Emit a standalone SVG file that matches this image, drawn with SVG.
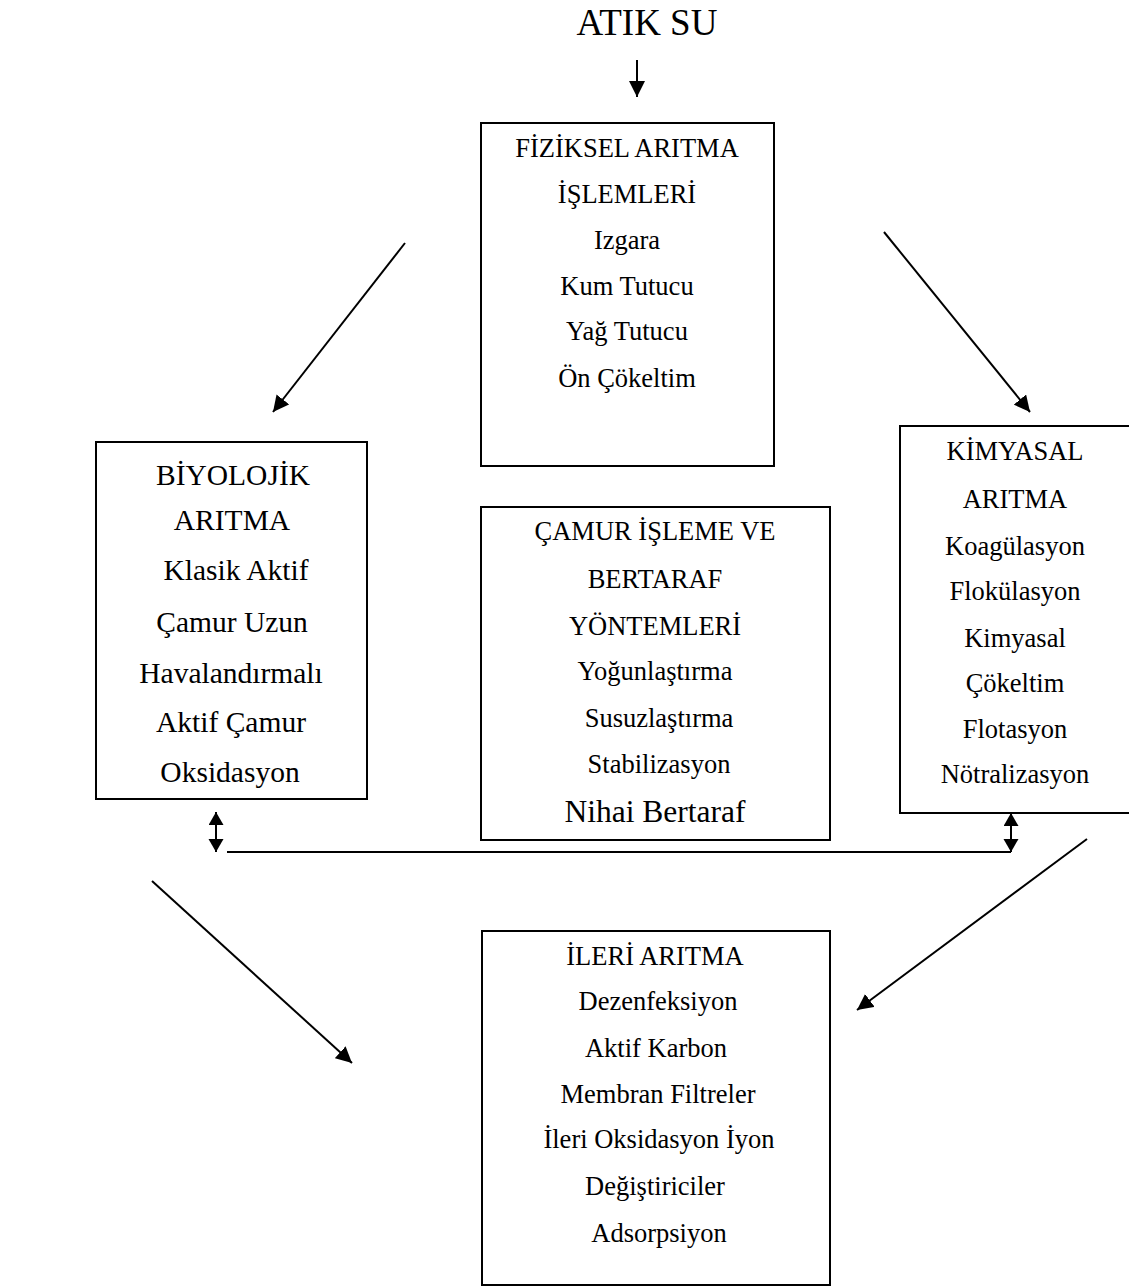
<svg xmlns="http://www.w3.org/2000/svg" width="1129" height="1286" viewBox="0 0 1129 1286">
<style>
text{font-family:"Liberation Serif","Times New Roman",serif;fill:#000;text-anchor:middle}
.box{fill:none;stroke:#000;stroke-width:2}
.c{fill:none;stroke:#000;stroke-width:2}
.t26{font-size:26.5px}
.t29{font-size:29.5px}
</style>
<defs>
<marker id="ah" markerUnits="userSpaceOnUse" markerWidth="18" markerHeight="16" refX="16" refY="8" orient="auto-start-reverse" viewBox="0 0 18 16">
<path d="M0,0 L16,8 L0,16 z" fill="#000"/>
</marker>
<marker id="ahs" markerUnits="userSpaceOnUse" markerWidth="15" markerHeight="16" refX="13" refY="7.5" orient="auto-start-reverse" viewBox="0 0 15 16">
<path d="M0,0 L13,7.5 L0,15 z" fill="#000"/>
</marker>
</defs>
<rect width="1129" height="1286" fill="#fff"/>

<g id="title">
<text x="647" y="35" style="font-size:37px">ATIK SU</text>
</g>

<g id="fiziksel">
<rect class="box" x="481" y="123" width="293" height="343"/>
<text class="t26" x="627" y="157">FİZİKSEL ARITMA</text>
<text class="t26" x="627" y="203">İŞLEMLERİ</text>
<text class="t26" x="627" y="249">Izgara</text>
<text class="t26" x="627" y="295">Kum Tutucu</text>
<text class="t26" x="627" y="340">Yağ Tutucu</text>
<text class="t26" x="627" y="387">Ön Çökeltim</text>
</g>

<g id="biyolojik">
<rect class="box" x="96" y="442" width="271" height="357"/>
<text class="t29" x="233" y="485">BİYOLOJİK</text>
<text class="t29" x="232" y="530">ARITMA</text>
<text class="t29" x="236" y="580">Klasik Aktif</text>
<text class="t29" x="232" y="632">Çamur Uzun</text>
<text class="t29" x="231" y="683">Havalandırmalı</text>
<text class="t29" x="231" y="732">Aktif Çamur</text>
<text class="t29" x="230" y="782">Oksidasyon</text>
</g>

<g id="camur">
<rect class="box" x="481" y="507" width="349" height="333"/>
<text class="t26" x="655" y="540">ÇAMUR İŞLEME VE</text>
<text class="t26" x="655" y="588">BERTARAF</text>
<text class="t26" x="655" y="635">YÖNTEMLERİ</text>
<text class="t26" x="655" y="680">Yoğunlaştırma</text>
<text class="t26" x="659" y="727">Susuzlaştırma</text>
<text class="t26" x="659" y="773">Stabilizasyon</text>
<text x="655" y="822" style="font-size:31.5px">Nihai Bertaraf</text>
</g>

<g id="kimyasal">
<rect class="box" x="900" y="426" width="235" height="387"/>
<text class="t26" x="1015" y="460">KİMYASAL</text>
<text class="t26" x="1015" y="508">ARITMA</text>
<text class="t26" x="1015" y="555">Koagülasyon</text>
<text class="t26" x="1015" y="600">Flokülasyon</text>
<text class="t26" x="1015" y="647">Kimyasal</text>
<text class="t26" x="1015" y="692">Çökeltim</text>
<text class="t26" x="1015" y="738">Flotasyon</text>
<text class="t26" x="1015" y="783">Nötralizasyon</text>
</g>

<g id="ileri">
<rect class="box" x="482" y="931" width="348" height="354"/>
<text class="t26" x="655" y="965">İLERİ ARITMA</text>
<text class="t26" x="658" y="1010">Dezenfeksiyon</text>
<text class="t26" x="656" y="1057">Aktif Karbon</text>
<text class="t26" x="658" y="1103">Membran Filtreler</text>
<text class="t26" x="659" y="1148">İleri Oksidasyon İyon</text>
<text class="t26" x="655" y="1195">Değiştiriciler</text>
<text class="t26" x="659" y="1242">Adsorpsiyon</text>
</g>

<g id="connectors">
<line class="c" x1="637" y1="60" x2="637" y2="97" marker-end="url(#ah)"/>
<line class="c" x1="405" y1="243" x2="273" y2="412" marker-end="url(#ah)"/>
<line class="c" x1="884" y1="232" x2="1030" y2="412" marker-end="url(#ah)"/>
<line class="c" x1="216" y1="812" x2="216" y2="852" marker-start="url(#ahs)" marker-end="url(#ahs)"/>
<line class="c" x1="1011" y1="813" x2="1011" y2="852" marker-start="url(#ahs)" marker-end="url(#ahs)"/>
<line class="c" x1="227" y1="852" x2="1011" y2="852"/>
<line class="c" x1="152" y1="881" x2="352" y2="1063" marker-end="url(#ah)"/>
<line class="c" x1="1087" y1="839" x2="857" y2="1010" marker-end="url(#ah)"/>
</g>
</svg>
